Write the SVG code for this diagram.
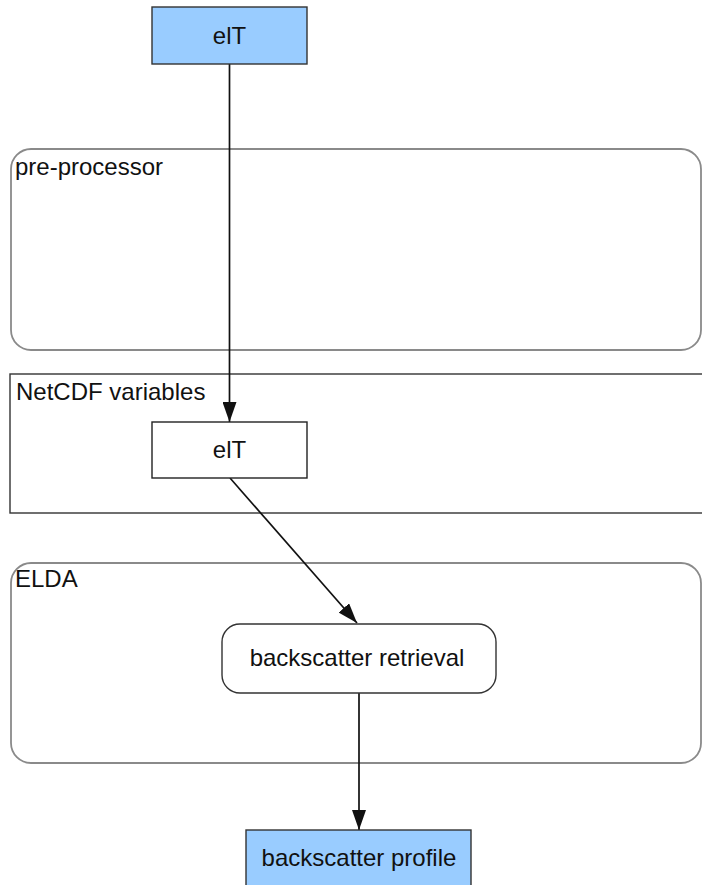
<svg xmlns="http://www.w3.org/2000/svg" width="702" height="885" viewBox="0 0 702 885">
  <defs>
    <style>
      text { font-family: "Liberation Sans", Arial, sans-serif; font-size: 24px; fill: #111; }
      .mid { text-anchor: middle; }
      .cluster { fill: none; stroke: #8a8a8a; stroke-width: 1.8; }
      .cluster-sq { fill: none; stroke: #333; stroke-width: 1.4; }
      .io { fill: #99ccff; stroke: #333; stroke-width: 1.4; }
      .var { fill: #fff; stroke: #222; stroke-width: 1.4; }
      .proc { fill: #fff; stroke: #333; stroke-width: 1.4; }
      .edge { fill: none; stroke: #111; stroke-width: 1.7; }
    </style>
    <marker id="arrow" viewBox="0 0 20 14" refX="20" refY="7" markerWidth="20" markerHeight="14" markerUnits="userSpaceOnUse" orient="auto">
      <path d="M0,0 L20,7 L0,14 Z" fill="#111"/>
    </marker>
  </defs>
  <rect width="702" height="885" fill="#fff"/>

  <!-- clusters -->
  <g id="cluster-preprocessor">
    <rect class="cluster" x="11" y="149" width="690" height="201" rx="20" ry="20"/>
    <text x="15" y="175">pre-processor</text>
  </g>
  <g id="cluster-netcdf">
    <rect class="cluster-sq" x="10" y="374" width="700" height="139"/>
    <text x="16" y="400">NetCDF variables</text>
  </g>
  <g id="cluster-elda">
    <rect class="cluster" x="11" y="563" width="690" height="200" rx="20" ry="20"/>
    <text x="15" y="587">ELDA</text>
  </g>

  <!-- connectors -->
  <g id="edges">
    <line class="edge" x1="229.5" y1="64" x2="229.5" y2="422" marker-end="url(#arrow)"/>
    <line class="edge" x1="230" y1="478" x2="357" y2="623" marker-end="url(#arrow)"/>
    <line class="edge" x1="359" y1="693" x2="359" y2="830" marker-end="url(#arrow)"/>
  </g>

  <!-- nodes -->
  <g id="node-elT-input">
    <rect class="io" x="152" y="7" width="155" height="57"/>
    <text class="mid" x="229.5" y="44">elT</text>
  </g>
  <g id="node-elT-var">
    <rect class="var" x="152" y="422" width="155" height="56"/>
    <text class="mid" x="229.5" y="458">elT</text>
  </g>
  <g id="node-backscatter-retrieval">
    <rect class="proc" x="222" y="624" width="274" height="69" rx="18" ry="18"/>
    <text class="mid" x="357" y="666">backscatter retrieval</text>
  </g>
  <g id="node-backscatter-profile">
    <rect class="io" x="246" y="830" width="225" height="60"/>
    <text class="mid" x="359" y="866">backscatter profile</text>
  </g>
</svg>
